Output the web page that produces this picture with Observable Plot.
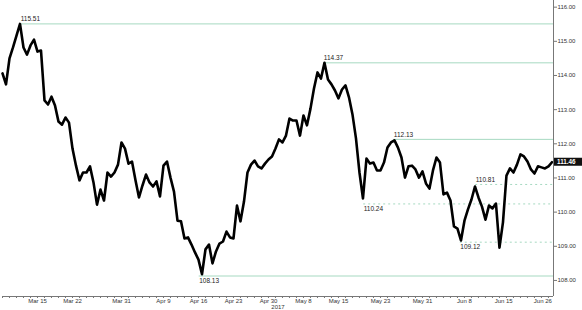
<!DOCTYPE html>
<html><head><meta charset="utf-8">
<script src="https://cdn.jsdelivr.net/npm/d3@7"></script>
<script src="https://cdn.jsdelivr.net/npm/@observablehq/plot@0.6"></script>
<style>html,body{margin:0;padding:0;background:#fff;} svg{display:block;}</style>
</head><body><div id="chart"></div>
<script>
// half-day price path (trading days)
const step = 0.5;
const price = [
114.06,113.74,114.50,114.82,115.17,115.51,114.82,114.61,114.88,115.05,
114.70,114.73,113.27,113.15,113.38,113.12,112.65,112.56,112.77,112.62,
111.86,111.36,110.93,111.16,111.16,111.34,110.87,110.22,110.66,110.34,
111.16,111.04,111.16,111.39,112.04,111.86,111.42,111.48,110.93,110.43,
110.78,111.10,110.87,110.75,110.90,110.46,111.36,111.48,111.01,110.60,
109.75,109.73,109.23,109.26,109.05,108.82,108.61,108.18,108.91,109.05,
108.50,108.85,109.08,109.14,109.43,109.26,109.23,110.19,109.73,110.31,
111.16,111.39,111.51,111.34,111.28,111.42,111.54,111.63,111.86,112.13,
112.04,112.24,112.74,112.68,112.68,112.24,112.83,112.54,113.03,113.62,
114.09,113.91,114.37,113.88,113.74,113.56,113.33,113.59,113.71,113.36,
112.86,112.16,111.16,110.40,111.57,111.42,111.45,111.22,111.22,111.45,
111.89,112.04,112.10,111.89,111.60,111.01,111.34,111.36,111.25,111.01,
111.19,110.84,110.69,111.22,111.60,111.45,110.52,110.57,110.34,109.58,
109.52,109.17,109.75,110.08,110.37,110.75,110.43,110.16,109.78,110.19,
110.11,110.25,108.96,109.70,111.07,111.28,111.16,111.39,111.69,111.63,
111.48,111.25,111.13,111.34,111.31,111.28,111.34,111.46
];
const xDomain = [0, 78.72];
const yDomain = [107.53, 116.195];
const tickDays = [5, 10, 17, 23, 28, 33, 38, 43, 48, 54, 60, 66, 71.6, 77.2];
const tickLabels = ["Mar 15","Mar 22","Mar 31","Apr 9","Apr 16","Apr 23","Apr 30","May 8","May 15","May 23","May 31","Jun 8","Jun 15","Jun 26"];
const yTicks = [108, 109, 110, 111, 112, 113, 114, 115, 116];
const yearLabel = "2017";
const solidLevels = [115.51, 114.37, 112.13, 108.13];
const solidStart = [2.6, 45.9, 55.9, 28.1];
const solidAbove = [true, true, true, false];
const dashedLevels = [110.24, 110.81, 109.12];
const dashedStart = [51.6, 67.6, 65.4];
const dashedAbove = [false, true, false];
const lastPrice = 111.46;

const solid = solidLevels.map((v, i) => ({v, start: solidStart[i], above: solidAbove[i]}));
const dashed = dashedLevels.map((v, i) => ({v, start: dashedStart[i], above: dashedAbove[i]}));
const levels = solid.concat(dashed);
const labelOf = new Map(tickDays.map((d, i) => [d, tickLabels[i]]));
const minorDays = d3.range(0, 79, 1);
const green = "#a6d9c1";
const font = "Liberation Sans, Arial, sans-serif";

const chart = Plot.plot({
  width: 582, height: 310,
  marginLeft: 2, marginRight: 29, marginTop: 0, marginBottom: 14,
  style: {fontFamily: font, background: "#fff"},
  x: {domain: xDomain, axis: null, label: null},
  y: {domain: yDomain, axis: null, label: null},
  marks: [
    Plot.ruleY(solid, {y: "v", x1: "start", x2: xDomain[1], stroke: green, strokeWidth: 1}),
    Plot.ruleY(dashed, {y: "v", x1: "start", x2: xDomain[1], stroke: green, strokeWidth: 1, strokeDasharray: "2,3"}),
    Plot.line(price, {x: (d, i) => i * step, y: d => d, stroke: "#000", strokeWidth: 2.6, curve: "linear"}),
    Plot.text(levels.filter(d => d.above), {x: "start", y: "v", text: d => d.v.toFixed(2), dy: -4.5,
      textAnchor: "start", fontSize: 6.5, fill: "#222"}),
    Plot.text(levels.filter(d => !d.above), {x: "start", y: "v", text: d => d.v.toFixed(2), dy: 5,
      textAnchor: "start", fontSize: 6.5, fill: "#222"}),
    Plot.ruleX([xDomain[1]], {stroke: "#777", strokeWidth: 1}),
    Plot.ruleY([yDomain[0]], {stroke: "#777", strokeWidth: 1}),
    Plot.axisY(yTicks, {anchor: "right", tickSize: 3, tickPadding: 1, tickFormat: d => d.toFixed(2),
      fontSize: 6, stroke: "#777", fill: "#333", label: null}),
    Plot.axisX(minorDays, {anchor: "bottom", tickSize: 2, tickFormat: () => "", stroke: "#777", label: null}),
    Plot.axisX(tickDays, {anchor: "bottom", tickSize: 0, tickPadding: 2.5, tickFormat: d => labelOf.get(d),
      fontSize: 6, fill: "#333", label: null}),
    Plot.text([yearLabel], {x: (xDomain[0] + xDomain[1]) / 2, y: yDomain[0], dy: 10.5, text: d => d,
      fontSize: 6, fill: "#333"})
  ]
});
document.getElementById("chart").appendChild(chart);

// last price tag on the right axis
const svg = d3.select(chart);
const yPix = chart.scale("y").apply(lastPrice);
const xPix = chart.scale("x").apply(xDomain[1]);
const g = svg.append("g");
g.append("rect").attr("x", xPix + 1).attr("y", yPix - 4).attr("width", 28).attr("height", 8).attr("fill", "#111");
g.append("text").attr("x", xPix + 4).attr("y", yPix + 2.2).attr("fill", "#fff").attr("text-anchor", "start")
  .attr("font-size", 6.3).attr("font-family", font).attr("font-weight", "bold").text(lastPrice.toFixed(2));
</script>
</body></html>
